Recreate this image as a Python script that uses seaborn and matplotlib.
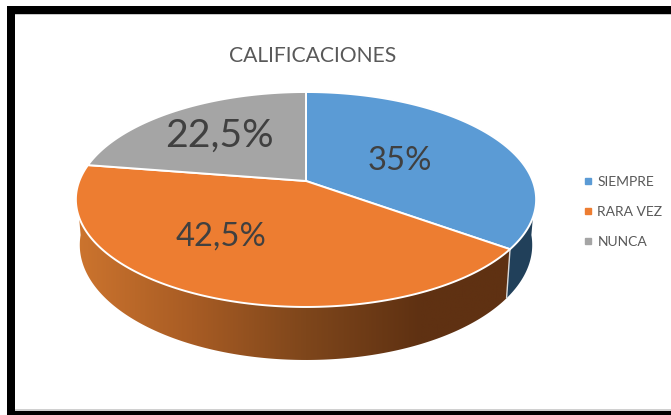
# %%
import numpy as np
import matplotlib
matplotlib.use('Agg')
import matplotlib.pyplot as plt
from matplotlib.lines import Line2D
from matplotlib.patches import Polygon, Rectangle
import seaborn as sns

title = 'CALIFICACIONES'
categories = ['SIEMPRE', 'RARA VEZ', 'NUNCA']
values = [35, 42.5, 22.5]
colors = ['#5B9BD5', '#ED7D31', '#A5A5A5']
wall_color = '#21405A'

sns.set_theme(style='white')
plt.rcParams['font.family'] = ['Lato', 'DejaVu Sans']

# apex of the pie on screen, and the tilt of the projection
CX, CY = 306, 181
A, B, K = 104.3, 226.7, -0.172
# bottom rim compared to top rim
SX, SY, DY = 0.983, 1.07, 44.2


def rim(deg, bottom=False):
    # deg is clockwise from 12 o'clock
    t = np.radians(deg)
    px, py = np.sin(t), np.cos(t)
    d = 1 - K * py
    x, y = B * px / d, -A * py / d
    if bottom:
        return np.column_stack([CX + SX * x, CY + DY + SY * y])
    return np.column_stack([CX + x, CY + y])


def arc(a, b, bottom=False):
    return rim(np.linspace(a, b, 200), bottom)


fig = plt.figure(figsize=(6.71, 4.15), dpi=100)
ax = fig.add_axes([0, 0, 1, 1])
ax.axis('off')

edges = np.cumsum([0] + values) / sum(values) * 360

# side walls, taken a bit past 3 and 9 o'clock so the outline has no notch
blue_wall = np.vstack([arc(95, edges[1]), arc(edges[1], 95, bottom=True)])
ax.add_patch(Polygon(blue_wall, fc=wall_color, ec='none', zorder=1))

orange_wall = np.vstack([arc(edges[1], 265), arc(265, edges[1], bottom=True)])
cmap = sns.blend_palette(['#CC742E', '#A85C24', '#7E461B', '#5F3112', '#5F3112'], as_cmap=True)
grad = ax.imshow(np.linspace(0, 1, 256)[None, :], cmap=cmap, extent=[77, 535, 360, 150],
                 aspect='auto', zorder=1)
grad.set_clip_path(Polygon(orange_wall, transform=ax.transData))

# seam between the two walls
seam = np.vstack([rim(edges[1]), rim(edges[1], bottom=True)])
ax.plot(seam[:, 0], seam[:, 1], color='#D9D9D9', lw=1, zorder=2)

# top face
for i, c in enumerate(colors):
    pts = np.vstack([[CX, CY], arc(edges[i], edges[i + 1])])
    ax.add_patch(Polygon(pts, fc=c, ec='white', lw=1.4, joinstyle='round', zorder=3))

# value labels, the 22,5% one is bigger in the original
label_pos = [(400, 161), (221, 237), (219, 136)]
label_size = [23.6, 23.6, 28.3]
for v, (x, y), s in zip(values, label_pos, label_size):
    ax.text(x, y, f'{v:g}'.replace('.', ',') + '%', ha='center', va='center',
            fontsize=s, color='#404040', zorder=4)

ax.text(313, 56, title, ha='center', va='center', fontsize=15.2, color='#595959')

handles = [Line2D([], [], marker='s', ls='none', ms=4.5, color=c) for c in colors]
ax.legend(handles, categories, loc='center left', bbox_to_anchor=(0.853, 0.49),
          frameon=False, fontsize=10, labelcolor='#595959', handletextpad=0.1,
          labelspacing=1.3, borderpad=0, handlelength=1.2)

# black screenshot frame
for x, y, w, h, c in [(7, 6, 664, 8, 'black'), (7, 6, 8, 409, 'black'),
                      (7, 411, 664, 4, 'black'), (15, 409, 656, 2, '#D0D0D0'),
                      (15, 14, 656, 1, '#C8C8C8')]:
    ax.add_patch(Rectangle((x, y), w, h, fc=c, ec='none', zorder=5))

ax.set_xlim(0, 671)
ax.set_ylim(415, 0)

fig.savefig('out.png', dpi=100)
